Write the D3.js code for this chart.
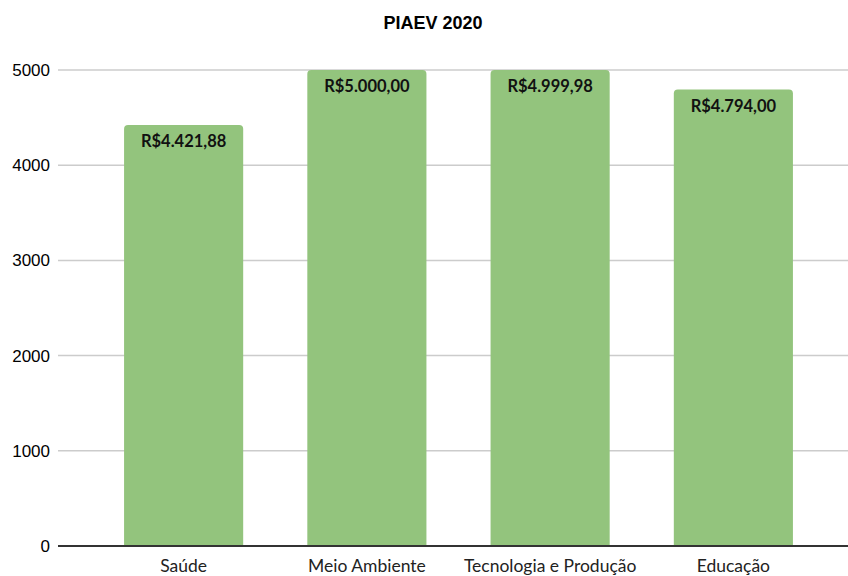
<!DOCTYPE html>
<html>
<head>
<meta charset="utf-8">
<script src="https://cdn.jsdelivr.net/npm/d3@7"></script>
<style>
  body { margin: 0; background: #fff; }
</style>
</head>
<body>
<div id="chart"></div>
<script>
const categories = ['Saúde', 'Meio Ambiente', 'Tecnologia e Produção', 'Educação'];
const values = [4421.88, 5000.00, 4999.98, 4794.00];
const valueLabels = ['R$4.421,88', 'R$5.000,00', 'R$4.999,98', 'R$4.794,00'];
const yTicks = [0, 1000, 2000, 3000, 4000, 5000];

const width = 848, height = 576;

const svg = d3.select('#chart')
    .append('svg')
    .attr('width', width)
    .attr('height', height);

const x = d3.scaleBand()
    .domain(categories)
    .range([92, 825])
    .paddingInner(0.35)
    .paddingOuter(0.175);

const y = d3.scaleLinear()
    .domain([0, 5000])
    .range([546, 70]);

// title
svg.append('text')
    .attr('x', 433)
    .attr('y', 29)
    .attr('text-anchor', 'middle')
    .attr('font-family', 'Liberation Sans, Arial, sans-serif')
    .attr('font-weight', 'bold')
    .attr('font-size', '18px')
    .attr('fill', '#000')
    .text('PIAEV 2020');

// gridlines
svg.append('g')
    .selectAll('line')
    .data(yTicks.filter(d => d > 0))
    .enter()
    .append('line')
    .attr('x1', 58)
    .attr('x2', width)
    .attr('y1', d => y(d))
    .attr('y2', d => y(d))
    .attr('stroke', '#cccccc')
    .attr('stroke-width', 1.5);

// y axis labels
const yAxis = svg.append('g')
    .attr('transform', 'translate(50,0)')
    .call(d3.axisLeft(y).tickValues(yTicks).tickFormat(d3.format('d')).tickSize(0).tickPadding(0));
yAxis.select('.domain').remove();
yAxis.selectAll('text')
    .attr('font-family', 'Liberation Sans, Arial, sans-serif')
    .attr('font-size', '17px')
    .attr('fill', '#000');

// bars with rounded top corners
const r = 4;
svg.append('g')
    .selectAll('path')
    .data(values)
    .enter()
    .append('path')
    .attr('fill', '#93c47d')
    .attr('d', (d, i) => {
        const x0 = x(categories[i]), w = x.bandwidth();
        const top = y(d), bottom = y(0);
        return `M${x0},${bottom} V${top + r} Q${x0},${top} ${x0 + r},${top} H${x0 + w - r} Q${x0 + w},${top} ${x0 + w},${top + r} V${bottom} Z`;
    });

// baseline
svg.append('line')
    .attr('x1', 58)
    .attr('x2', width)
    .attr('y1', y(0))
    .attr('y2', y(0))
    .attr('stroke', '#333')
    .attr('stroke-width', 2);

// value labels
svg.append('g')
    .selectAll('text')
    .data(values)
    .enter()
    .append('text')
    .attr('x', (d, i) => x(categories[i]) + x.bandwidth() / 2)
    .attr('y', d => y(d) + 22)
    .attr('text-anchor', 'middle')
    .attr('font-family', 'Lato, sans-serif')
    .attr('font-weight', 'bold')
    .attr('font-size', '16.5px')
    .attr('fill', '#111')
    .text((d, i) => valueLabels[i]);

// x axis labels
const xAxis = svg.append('g')
    .attr('transform', `translate(0,${y(0)})`)
    .call(d3.axisBottom(x).tickSize(0).tickPadding(14));
xAxis.select('.domain').remove();
xAxis.selectAll('text')
    .attr('font-family', 'Lato, sans-serif')
    .attr('font-size', '17.5px')
    .attr('fill', '#222');
</script>
</body>
</html>
